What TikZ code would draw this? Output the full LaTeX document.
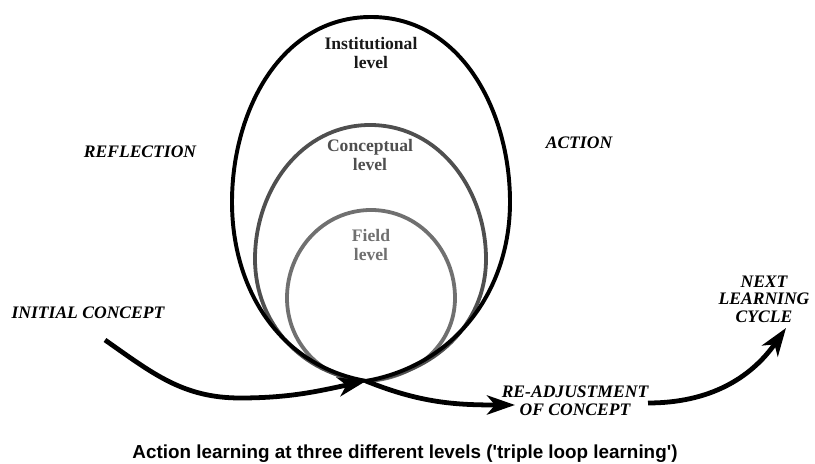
\documentclass[tikz,border=0pt]{standalone}
\usepackage{fontspec}
\setmainfont{Liberation Serif}
\setsansfont{Liberation Sans}
\usepackage{tikz}
\usetikzlibrary{arrows.meta}

\definecolor{concgray}{HTML}{4F4F4F}
\definecolor{fieldgray}{HTML}{707070}

\tikzset{
  lvltext/.style={align=center, font=\bfseries\fontsize{12.5}{13}\selectfont},
  phase/.style={align=center, font=\bfseries\itshape\fontsize{12.5}{12.5}\selectfont},
  flow/.style={line width=3.4pt, -{Stealth[length=7mm,width=4.8mm,inset=2mm]}}
}

\begin{document}
\begin{tikzpicture}[x=0.025cm, y=0.025cm]
            \useasboundingbox (0,0) rectangle (815,464);

            \coordinate (cross) at (366,83);
            \coordinate (start) at (105,124);
            \coordinate (readjtip) at (515,59);
            \coordinate (nexttip) at (786,136);
            \coordinate (readjout) at (648,61);

            \draw[line width=2.7pt, fieldgray] (cross) to[out=178,in=-90] (287,166) to[out=90,in=180] (371,254)
                to[out=0,in=90] (455,166) to[out=-90,in=2] (cross);
            \draw[line width=2.7pt, concgray] (cross) to[out=174,in=-90] (255,205) to[out=90,in=180] (370,339)
                to[out=0,in=90] (486,205) to[out=-90,in=6] (cross);
            \draw[line width=2.8pt, black] (cross) to[out=170,in=-90] (232,262) to[out=90,in=180] (371,447)
                to[out=0,in=90] (510,262) to[out=-90,in=10] (cross);

            \node[lvltext, text=black!90] (inst) at (371,411) {Institutional\\level};
            \node[lvltext, text=concgray] (concept) at (370,309) {Conceptual\\level};
            \node[lvltext, text=fieldgray] (field) at (371,219) {Field\\level};

            \node[phase] (refl) at (140,312) {REFLECTION};
            \node[phase] (action) at (579,321) {ACTION};
            \node[phase] (initial) at (88,151) {INITIAL CONCEPT};
            \node[phase] (next) at (764,165) {NEXT\\LEARNING\\CYCLE};
            \node[phase] (readj) at (575,63) {RE-ADJUSTMENT\\OF CONCEPT};

            \draw[flow] (start) to[out=-35,in=180] (240,66) to[out=0,in=-168] (cross);
            \draw[flow] (cross) to[out=-22,in=180] (readjtip);
            \draw[flow] (readjout) to[out=0,in=235] (nexttip);

            \node[anchor=base, font=\sffamily\bfseries\fontsize{13.4}{14}\selectfont] (caption) at (405,5)
                {Action learning at three different levels (\textquotesingle triple loop learning\textquotesingle)};
        \end{tikzpicture}
\end{document}
